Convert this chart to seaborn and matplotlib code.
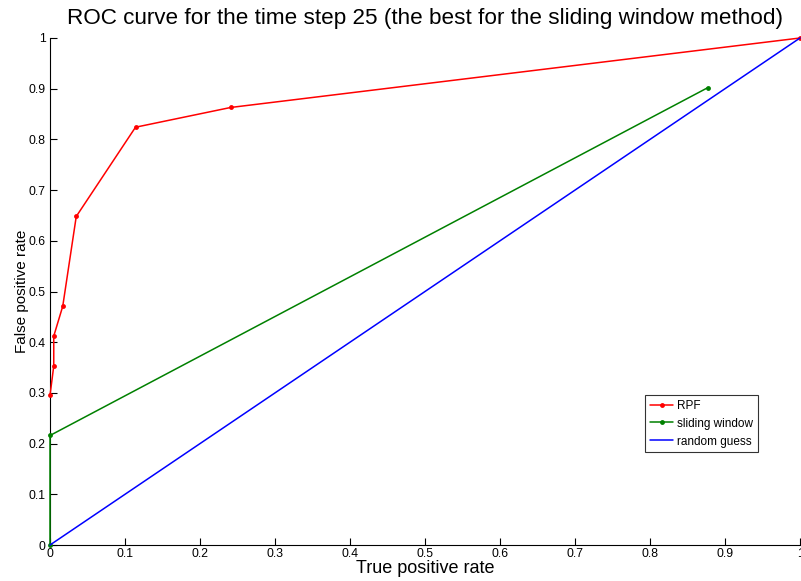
import matplotlib
matplotlib.use('Agg')
import matplotlib.pyplot as plt
import seaborn as sns
import pandas as pd

# ROC points
rpf_x = [0.0, 0.005, 0.005, 0.017, 0.035, 0.114, 0.241, 1.0]
rpf_y = [0.295, 0.353, 0.412, 0.471, 0.648, 0.824, 0.863, 1.0]
sw_x = [0.0, 0.0, 0.877]
sw_y = [0.0, 0.216, 0.902]
rg_x = [0.0, 1.0]
rg_y = [0.0, 1.0]

sns.set_style("ticks", {"text.color": "black", "axes.labelcolor": "black",
                        "xtick.color": "black", "ytick.color": "black",
                        "axes.edgecolor": "black"})
plt.rcParams['font.family'] = ['Liberation Sans', 'DejaVu Sans']

fig = plt.figure(figsize=(8.01, 5.81), dpi=100)
ax = fig.add_axes([50 / 801, 1 - 545 / 581, 750 / 801, 507 / 581])

rpf = pd.DataFrame({"x": rpf_x, "y": rpf_y})
sw = pd.DataFrame({"x": sw_x, "y": sw_y})
rg = pd.DataFrame({"x": rg_x, "y": rg_y})

sns.lineplot(data=rpf, x="x", y="y", sort=False, estimator=None, color="#ff0000",
             marker="o", markersize=3.5, markeredgewidth=0, linewidth=1.1, label="RPF", ax=ax)
sns.lineplot(data=sw, x="x", y="y", sort=False, estimator=None, color="#008000",
             marker="o", markersize=3.5, markeredgewidth=0, linewidth=1.1, label="sliding window", ax=ax)
sns.lineplot(data=rg, x="x", y="y", sort=False, estimator=None, color="#0000ff",
             linewidth=1.1, label="random guess", ax=ax)

ax.set_xlim(0, 1)
ax.set_ylim(0, 1)
ax.set_xticks([i / 10 for i in range(11)])
ax.set_yticks([i / 10 for i in range(11)])
ax.set_xticklabels(["0"] + [f"{i / 10:g}" for i in range(1, 10)] + ["1"])
ax.set_yticklabels(["0"] + [f"{i / 10:g}" for i in range(1, 10)] + ["1"])
ax.tick_params(direction="in", length=5, labelsize=8.8, width=0.8, pad=3, colors="black")
ax.tick_params(axis="x", pad=2)
for s in ["top", "right"]:
    ax.spines[s].set_visible(False)
for s in ["left", "bottom"]:
    ax.spines[s].set_color("black")
    ax.spines[s].set_linewidth(0.8)
for line in ax.lines:
    line.set_clip_on(False)
    line.set_zorder(3)

ax.set_xlabel("True positive rate", fontsize=13, labelpad=0, color="black")
ax.set_ylabel("False positive rate", fontsize=11, labelpad=0, color="black")
ax.set_title("ROC curve for the time step 25 (the best for the sliding window method)",
             fontsize=16.2, pad=10, color="black")

leg = ax.legend(loc="upper left", bbox_to_anchor=(595 / 750, 1 - 357 / 507), fontsize=8.5,
                frameon=True, fancybox=False, edgecolor="black", handlelength=2.0,
                handletextpad=0.3, borderpad=0.4, labelspacing=0.5, borderaxespad=0)
leg.get_frame().set_linewidth(0.8)
for t in leg.get_texts():
    t.set_color("black")

fig.savefig("out.png", dpi=100)
